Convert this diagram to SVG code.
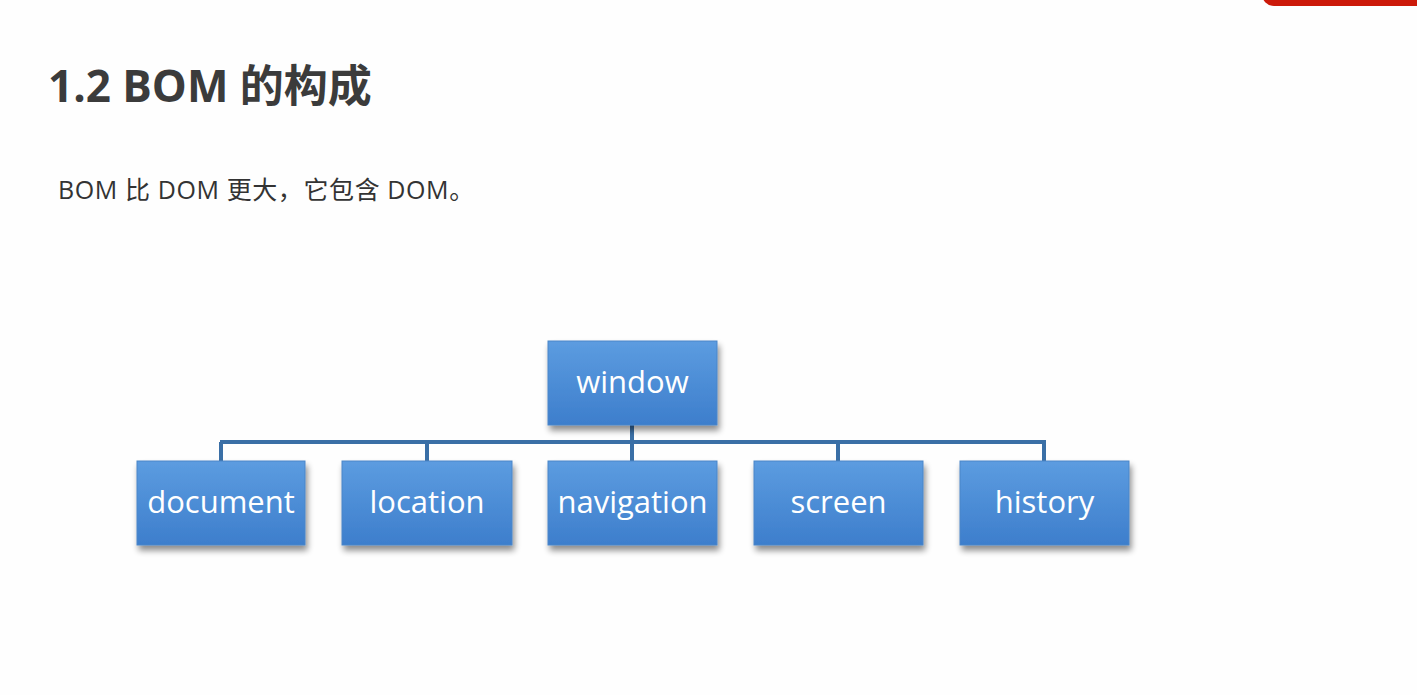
<svg xmlns="http://www.w3.org/2000/svg" width="1417" height="695" viewBox="0 0 1417 695">
<style>
.title{font-family:"Open Sans","Noto Sans CJK SC",sans-serif;font-weight:700;font-size:44px;fill:#3b3b3b}
.sub{font-family:"Open Sans","Noto Sans CJK SC",sans-serif;font-size:25px;letter-spacing:0.6px;fill:#333}
.box{fill:url(#g);stroke:#4a86c8;stroke-width:1}
.lbl{font-family:"Open Sans","Noto Sans",sans-serif;font-size:31px;fill:#fff;text-anchor:middle}
.conn{stroke:#3a6fa6;stroke-width:4;fill:none}
</style>
<defs>
<linearGradient id="g" x1="0" y1="0" x2="0" y2="1">
<stop offset="0" stop-color="#5c9ce0"/>
<stop offset="1" stop-color="#3d7ecc"/>
</linearGradient>
<filter id="sh" x="-20%" y="-20%" width="140%" height="160%">
<feGaussianBlur in="SourceAlpha" stdDeviation="3"/>
<feOffset dx="2" dy="5"/>
<feComponentTransfer><feFuncA type="linear" slope="0.45"/></feComponentTransfer>
<feMerge><feMergeNode/><feMergeNode in="SourceGraphic"/></feMerge>
</filter>
</defs>
<rect width="1417" height="695" fill="#fefefe"/>
<rect x="1262" y="-20" width="180" height="26" rx="12" fill="#cc1a0a"/>
<text class="title" x="48" y="102">1.2 BOM 的构成</text>
<text class="sub" x="58" y="199">BOM 比 DOM 更大，它包含 DOM。</text>
<g id="connectors">
<path class="conn" d="M632 425V442M220 442H1046M221 442V461M427 442V461M632 442V461M838 442V461M1044 442V461"/>
</g>
<g id="window"><rect class="box" filter="url(#sh)" x="548" y="341" width="169" height="84"/><text class="lbl" x="632.5" y="393">window</text></g>
<g id="document"><rect class="box" filter="url(#sh)" x="137" y="461" width="168" height="84"/><text class="lbl" x="221" y="513">document</text></g>
<g id="location"><rect class="box" filter="url(#sh)" x="342" y="461" width="170" height="84"/><text class="lbl" x="427" y="513">location</text></g>
<g id="navigation"><rect class="box" filter="url(#sh)" x="548" y="461" width="169" height="84"/><text class="lbl" x="632.5" y="513">navigation</text></g>
<g id="screen"><rect class="box" filter="url(#sh)" x="754" y="461" width="169" height="84"/><text class="lbl" x="838.5" y="513">screen</text></g>
<g id="history"><rect class="box" filter="url(#sh)" x="960" y="461" width="169" height="84"/><text class="lbl" x="1044.5" y="513">history</text></g>
</svg>
